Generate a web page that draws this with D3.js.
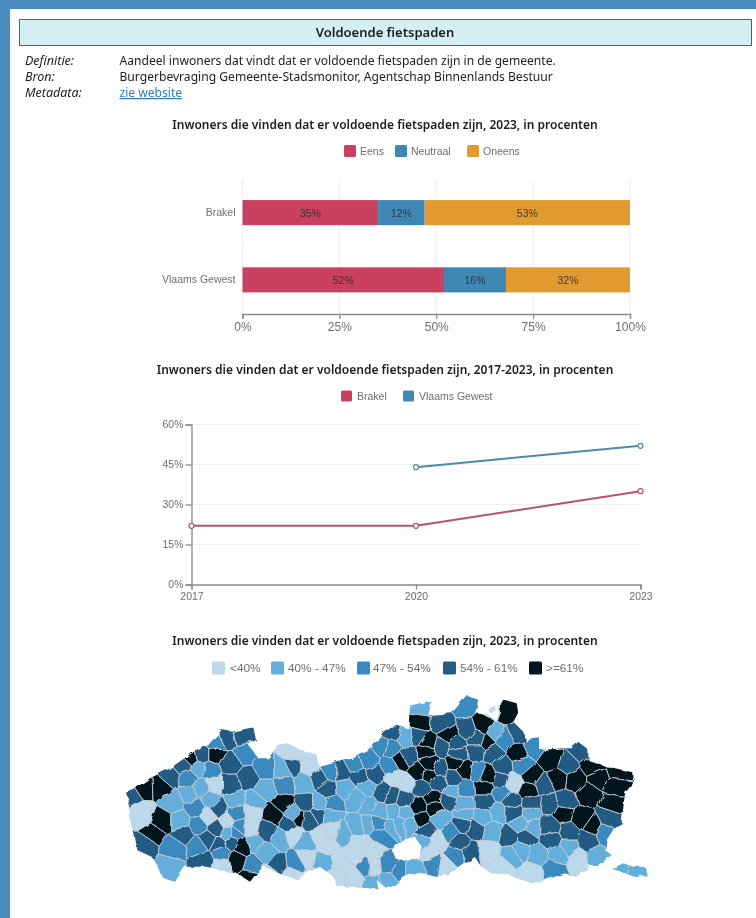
<!DOCTYPE html>
<html>
<head>
<meta charset="utf-8">
<title>Voldoende fietspaden</title>
<script src="https://cdn.jsdelivr.net/npm/d3@7"></script>
<style>
	html, body { margin: 0; padding: 0; background: #fff; overflow: hidden; }
	svg { display: block; filter: blur(0.4px); }
	text { font-family: "Liberation Sans", Arial, sans-serif; }
	.head { font-family: "Noto Sans", sans-serif; fill: #1d1d1b; }
	.title { font-family: "Noto Sans", sans-serif; font-weight: 600; font-size: 12px; fill: #1d1d1b; text-anchor: middle; }
	.axis text { fill: #6e6e6e; font-family: "Liberation Sans", Arial, sans-serif; }
	.axis path, .axis line { stroke: #8a8a8a; stroke-width: 1.3; }
	.legend-label { fill: #6e6e6e; }
	.grid line { stroke: #eee; }
</style>
</head>
<body>
<div id="chart"></div>
<script>
// Page texts
const pageTitle = "Voldoende fietspaden";
const metaKeys = ["Definitie:", "Bron:", "Metadata:"];
const metaValues = [
	"Aandeel inwoners dat vindt dat er voldoende fietspaden zijn in de gemeente.",
	"Burgerbevraging Gemeente-Stadsmonitor, Agentschap Binnenlands Bestuur",
	"zie website"
];
const barTitle = "Inwoners die vinden dat er voldoende fietspaden zijn, 2023, in procenten";
const lineTitle = "Inwoners die vinden dat er voldoende fietspaden zijn, 2017-2023, in procenten";

// Stacked bars
const barAreas = ["Brakel", "Vlaams Gewest"];
const barSeries = ["Eens", "Neutraal", "Oneens"];
const barEens = [35, 52];
const barNeutraal = [12, 16];
const barOneens = [53, 32];
const barTicks = [0, 25, 50, 75, 100];
const barColors = ["#c9415f", "#3f87b5", "#e09a2f"];

// Lines
const lineYears = [2017, 2020, 2023];
const lineBrakel = [22, 22, 35];
const lineVlaams = [null, 44, 52];
const lineTicks = [0, 15, 30, 45, 60];
const lineNames = ["Brakel", "Vlaams Gewest"];
const lineColors = ["#c9415f", "#3f87b5"];
const lineStrokes = ["#b9506c", "#4d8ba6"];

// Map legend
const mapClasses = ["<40%", "40% - 47%", "47% - 54%", "54% - 61%", ">=61%"];
const mapColors = ["#bcd8ea", "#63aedb", "#3b8abf", "#235c84", "#06141f"];

// Map geometry in map units: x 0-1620, y 0-615.
// [x, y] outline, hole (Brussels), and the two small exclaves.
const flandersOutline = [
	[15,305],[45,295],[90,265],[150,235],[215,190],[265,165],[305,120],[335,125],[400,112],[408,150],[385,165],
	[415,205],[450,205],[465,185],[470,165],[500,160],[560,185],[590,195],[600,230],[640,220],[700,205],[750,180],
	[790,125],[810,110],[835,108],[865,115],[870,50],[935,35],[925,75],[995,70],[1020,40],[1040,15],[1075,30],[1065,70],
	[1105,75],[1125,90],[1140,50],[1155,30],[1190,40],[1195,70],[1180,95],[1210,125],[1215,150],[1260,145],[1260,180],
	[1335,175],[1355,175],[1375,155],[1405,180],[1405,210],[1475,235],[1540,250],[1540,265],[1530,290],[1515,310],
	[1510,350],[1505,400],[1485,410],[1460,450],[1455,480],[1475,495],[1435,525],[1405,525],[1405,540],[1365,560],
	[1335,550],[1275,570],[1235,580],[1195,565],[1165,555],[1115,550],[1085,530],[1065,500],[1045,515],[985,555],
	[945,560],[895,545],[855,560],[815,590],[795,590],[770,570],[775,598],[700,590],[650,590],[640,560],[600,530],
	[560,550],[530,570],[470,545],[430,530],[410,550],[390,575],[350,550],[300,540],[260,530],[220,530],[195,530],
	[165,575],[130,565],[110,525],[95,500],[50,480],[40,430],[25,370],[30,330]
];
const brusselsHole = [[815,480],[845,450],[885,440],[905,470],[895,500],[855,515],[825,505]];
const voerenPart = [[1475,535],[1510,520],[1540,530],[1575,530],[1580,555],[1555,565],[1515,550],[1495,540]];
const baarlePart = [[1108,50],[1122,45],[1127,58],[1115,70],[1105,62]];

// Municipalities as [x, y, class], west half of the map
const muniWest = [
	[35,315,3],[70,292,4],[125,290,4],[150,262,3],[205,265,2],[235,235,1],[190,225,3],[213,203,4],[245,195,3],
	[288,195,4],[290,160,2],[320,145,3],[365,135,3],[330,220,3],[375,190,2],[270,240,2],[435,235,2],[490,238,1],[515,225,3],
	[520,190,0],[570,230,0],[285,285,0],[330,285,3],[385,265,3],[65,370,0],[160,335,1],[210,310,1],[240,295,1],[230,355,2],
	[270,330,1],[295,355,3],[345,330,1],[405,335,1],[435,300,1],[495,285,2],[550,280,1],[600,265,3],[630,245,2],[665,245,3],
	[705,225,2],[745,210,2],[790,170,2],[720,260,3],[765,255,3],[625,300,3],[555,340,3],[490,340,4],[460,375,4],[520,370,1],
	[535,385,4],[570,390,3],[595,375,3],[600,340,1],[635,340,2],[630,380,1],[675,295,1],[710,325,1],[740,290,1],[745,345,1],
	[790,310,3],[780,365,1],[775,400,2],[785,435,2],[125,395,4],[100,430,4],[75,465,3],[160,475,2],[190,430,3],
	[180,395,1],[235,405,2],[235,470,2],[265,380,0],[290,415,3],[320,395,0],[350,370,2],[360,410,2],[395,365,0],[390,410,0],
	[325,430,1],[345,430,2],[265,450,3],[295,465,3],[250,510,3],[305,490,2],[335,455,3],[350,510,4],[370,470,4],[400,460,1],
	[400,525,2],[435,490,1],[470,525,3],[392,565,4],[145,530,1],[440,420,3],[505,405,3],[480,440,1],[520,430,0],[560,460,1],
	[610,510,1],[525,520,2],[510,555,0],[735,530,2],[670,430,1],[710,410,1],[745,405,1],[600,440,0],[660,510,0],[720,460,0],
	[650,570,0],[560,500,0],[590,570,0],[680,530,0],[450,550,0],[305,525,0],[760,580,1],[760,480,0],
	[620,470,0],[700,500,0],[700,560,0],[760,530,0],[640,420,0]
];

// Municipalities as [x, y, class], east half, measured from eastOffset
const eastOffset = 795;
const muniEast = [
	[110,60,1],[105,95,4],[170,100,3],[245,50,2],[250,120,3],[295,105,4],[365,70,4],[330,130,1],[360,145,2],[395,130,3],
	[190,135,4],[130,160,4],[95,135,3],[65,140,1],[20,125,3],[125,185,4],[215,165,3],[275,145,3],[305,155,4],[320,190,3],
	[275,185,3],[220,190,3],[170,170,3],[400,190,4],[445,170,2],[410,225,2],[500,210,4],[590,180,3],[545,225,3],[15,175,2],
	[70,200,3],[45,215,4],[20,230,2],[135,220,4],[165,235,3],[210,220,4],[240,240,4],[205,265,3],[280,245,2],[305,255,4],
	[355,230,3],[345,270,3],[300,295,4],[440,260,4],[430,300,4],[385,280,0],[475,285,3],[520,265,4],[570,270,4],[625,230,4],
	[700,245,4],[640,265,4],[610,310,4],[695,290,4],[685,340,4],[540,335,3],[440,340,3],[380,335,3],[495,345,3],[350,310,2],
	[30,260,0],[70,280,0],[100,250,4],[130,255,4],[160,280,3],[110,290,3],[240,300,2],[200,305,1],[235,340,1],[300,335,3],
	[20,320,3],[100,350,4],[145,325,4],[150,355,4],[105,385,4],[190,330,3],[55,330,3],[165,385,1],[25,365,1],[60,370,1],
	[15,410,1],[45,400,1],[75,400,1],[125,420,3],[195,430,2],[235,400,3],[270,415,3],[240,375,1],[290,380,1],[340,365,1],
	[320,425,1],[385,365,3],[405,405,1],[440,370,1],[440,410,1],[375,440,3],[420,440,3],[495,410,3],[550,425,3],[535,370,4],
	[590,385,4],[625,410,4],[670,385,3],[660,430,2],[610,450,3],[500,450,3],[550,470,1],[520,490,1],[460,495,1],[405,480,1],
	[380,495,1],[635,500,1],[580,510,0],[505,540,2],[440,550,0],[310,480,0],[350,530,0],[255,490,3],[225,460,3],[215,495,2],
	[160,450,0],[115,460,1],[150,525,2],[90,545,1],[40,545,2],[10,525,2],[180,530,0],[10,570,1],[130,480,0],[700,535,1],[760,545,1],[322,55,0]
];

///////////////////////
/// Page and header ///
///////////////////////

let width = 756;
let height = 918;

let svg = d3.select("#chart")
	.append("svg")
	.attr("width", width)
	.attr("height", height);

svg.append("rect").attr("width", width).attr("height", height).attr("fill", "#4a8bc2");
svg.append("rect").attr("x", 10).attr("y", 9).attr("width", width - 10).attr("height", height - 9).attr("fill", "#fff");

svg.append("rect")
	.attr("x", 19.5).attr("y", 19.5)
	.attr("width", 732).attr("height", 26)
	.attr("fill", "#d4eff2")
	.attr("stroke", "#3f6a6e");

svg.append("text")
	.attr("class", "head")
	.attr("x", 385).attr("y", 37)
	.attr("text-anchor", "middle")
	.attr("font-size", 13)
	.attr("font-weight", 600)
	.text(pageTitle);

metaKeys.forEach((k, i) => {
	let rowY = 65 + i * 16;
	svg.append("text")
		.attr("class", "head")
		.attr("x", 25).attr("y", rowY)
		.attr("font-size", 12.5)
		.attr("font-style", "italic")
		.text(k);

	svg.append("text")
		.attr("class", "head")
		.attr("x", 119.5).attr("y", rowY)
		.attr("font-size", 12.1)
		.style("fill", i == 2 ? "#2f7cc4" : null)
		.attr("text-decoration", i == 2 ? "underline" : null)
		.text(metaValues[i]);
});

function legend(names, colors, swatchX, labelX, centerY, size, fontSize) {
	let g = svg.append("g");
	names.forEach((name, i) => {
		g.append("rect")
			.attr("x", swatchX[i]).attr("y", centerY - size / 2)
			.attr("width", size).attr("height", size)
			.attr("rx", 1.5)
			.attr("fill", colors[i]);
		g.append("text")
			.attr("class", "legend-label")
			.attr("x", labelX[i]).attr("y", centerY + 4)
			.attr("font-size", fontSize)
			.text(name);
	});
	return g;
}

//////////////////////////
/// Stacked bar chart  ///
//////////////////////////

svg.append("text").attr("class", "title").attr("x", 385).attr("y", 129).text(barTitle);
legend(barSeries, barColors, [344, 395, 467], [360, 411, 483], 151, 12, 10.5);

let barX = d3.scaleLinear().domain([0, 100]).range([242.5, 630]);
let barY = d3.scaleBand().domain(barAreas).range([179, 313.5]).paddingInner(0.627).paddingOuter(0.3135);

svg.append("g")
	.attr("class", "grid")
	.selectAll("line")
	.data(barTicks)
	.join("line")
	.attr("x1", d => barX(d)).attr("x2", d => barX(d))
	.attr("y1", 180).attr("y2", 314);

let stack = d3.stack().keys(barSeries.map((s, i) => i)).value((d, k) => d[k]);
let barRows = barAreas.map((a, i) => [barEens[i], barNeutraal[i], barOneens[i]]);

let layers = svg.append("g")
	.selectAll("g")
	.data(stack(barRows))
	.join("g")
	.attr("fill", d => barColors[d.key]);

layers.selectAll("rect")
	.data(d => d)
	.join("rect")
	.attr("x", d => barX(d[0]))
	.attr("width", d => barX(d[1]) - barX(d[0]))
	.attr("y", (d, i) => barY(barAreas[i]))
	.attr("height", barY.bandwidth());

layers.selectAll("text")
	.data(d => d)
	.join("text")
	.attr("x", d => barX((d[0] + d[1]) / 2))
	.attr("y", (d, i) => barY(barAreas[i]) + barY.bandwidth() / 2 + 4)
	.attr("text-anchor", "middle")
	.attr("font-size", 10.5)
	.attr("fill", "#2b2b33")
	.attr("fill-opacity", 0.85)
	.text(d => (d[1] - d[0]) + "%");

let barAxisBottom = svg.append("g")
	.attr("class", "axis")
	.attr("transform", "translate(0,314)")
	.call(d3.axisBottom(barX).tickValues(barTicks).tickSize(5).tickPadding(3).tickFormat(d => d + "%"));
barAxisBottom.selectAll("text").attr("font-size", 12);

let barAxisLeft = svg.append("g")
	.attr("class", "axis")
	.attr("transform", "translate(242.5,0)")
	.call(d3.axisLeft(barY).tickSize(0).tickPadding(7));
barAxisLeft.select("path").remove();
barAxisLeft.selectAll("text").attr("font-size", 10.5);

//////////////////
/// Line chart ///
//////////////////

svg.append("text").attr("class", "title").attr("x", 385).attr("y", 374).text(lineTitle);
legend(lineNames, lineColors, [341, 403], [357, 419], 396, 11, 10.5);

let lineX = d3.scaleLinear().domain([2017, 2023]).range([191.5, 640.5]);
let lineY = d3.scaleLinear().domain([0, 60]).range([584.5, 424.5]);

svg.append("g")
	.attr("class", "grid")
	.selectAll("line")
	.data(lineTicks.slice(1))
	.join("line")
	.attr("x1", 191.5).attr("x2", 640.5)
	.attr("y1", d => lineY(d)).attr("y2", d => lineY(d));

let lineYAxis = svg.append("g")
	.attr("class", "axis")
	.attr("transform", "translate(191.5,0)")
	.call(d3.axisLeft(lineY).tickValues(lineTicks).tickSize(6).tickPadding(2).tickFormat(d => d + "%"));
lineYAxis.selectAll("text").attr("font-size", 10.5);

let lineXAxis = svg.append("g")
	.attr("class", "axis")
	.attr("transform", "translate(0,584.5)")
	.call(d3.axisBottom(lineX).tickValues(lineYears).tickSize(5).tickPadding(3).tickFormat(d3.format("d")));
lineXAxis.selectAll("text").attr("font-size", 10.5);

let lineGen = d3.line()
	.defined(d => d.v !== null)
	.x(d => lineX(d.year))
	.y(d => lineY(d.v));

[lineBrakel, lineVlaams].forEach((values, i) => {
	let pts = values.map((v, j) => ({ year: lineYears[j], v: v }));

	svg.append("path")
		.datum(pts)
		.attr("d", lineGen)
		.attr("fill", "none")
		.attr("stroke", lineStrokes[i])
		.attr("stroke-width", 2);

	svg.append("g")
		.selectAll("circle")
		.data(pts.filter(d => d.v !== null))
		.join("circle")
		.attr("cx", d => lineX(d.year))
		.attr("cy", d => lineY(d.v))
		.attr("r", 2.5)
		.attr("fill", "#fff")
		.attr("stroke", lineStrokes[i])
		.attr("stroke-width", 1.2);
});

///////////
/// Map ///
///////////

svg.append("text").attr("class", "title").attr("x", 385).attr("y", 645).text(barTitle);
legend(mapClasses, mapColors, [212, 271, 357, 443, 529], [230, 288, 373, 460, 546], 668, 13, 11.8);

let mapX = d3.scaleLinear().domain([0, 1620]).range([120, 660]);
let mapY = d3.scaleLinear().domain([0, 615]).range([690, 895]);

let munis = muniWest.concat(muniEast.map(d => [d[0] + eastOffset, d[1], d[2]]));

let voronoi = d3.Delaunay
	.from(munis, d => mapX(d[0]), d => mapY(d[1]))
	.voronoi([100, 670, 680, 910]);

let ringPath = d3.line().x(d => mapX(d[0])).y(d => mapY(d[1]));
let clipD = [flandersOutline, brusselsHole, voerenPart, baarlePart]
	.map(r => ringPath(r) + "Z")
	.join("");

let defs = svg.append("defs");

defs.append("clipPath")
	.attr("id", "flanders")
	.append("path")
	.attr("d", clipD)
	.attr("clip-rule", "evenodd");

// roughens the straight cell edges so they read as municipal borders
let rough = defs.append("filter")
	.attr("id", "rough")
	.attr("x", "-5%").attr("y", "-5%")
	.attr("width", "110%").attr("height", "110%");
rough.append("feTurbulence")
	.attr("type", "fractalNoise")
	.attr("baseFrequency", 0.09)
	.attr("numOctaves", 2)
	.attr("seed", 4)
	.attr("result", "noise");
rough.append("feDisplacementMap")
	.attr("in", "SourceGraphic")
	.attr("in2", "noise")
	.attr("scale", 5);

svg.append("g")
	.attr("filter", "url(#rough)")
	.append("g")
	.attr("clip-path", "url(#flanders)")
	.selectAll("path")
	.data(munis)
	.join("path")
	.attr("d", (d, i) => voronoi.renderCell(i))
	.attr("fill", d => mapColors[d[2]])
	.attr("stroke", "#c4ccd2")
	.attr("stroke-width", 0.9);
</script>
</body>
</html>
